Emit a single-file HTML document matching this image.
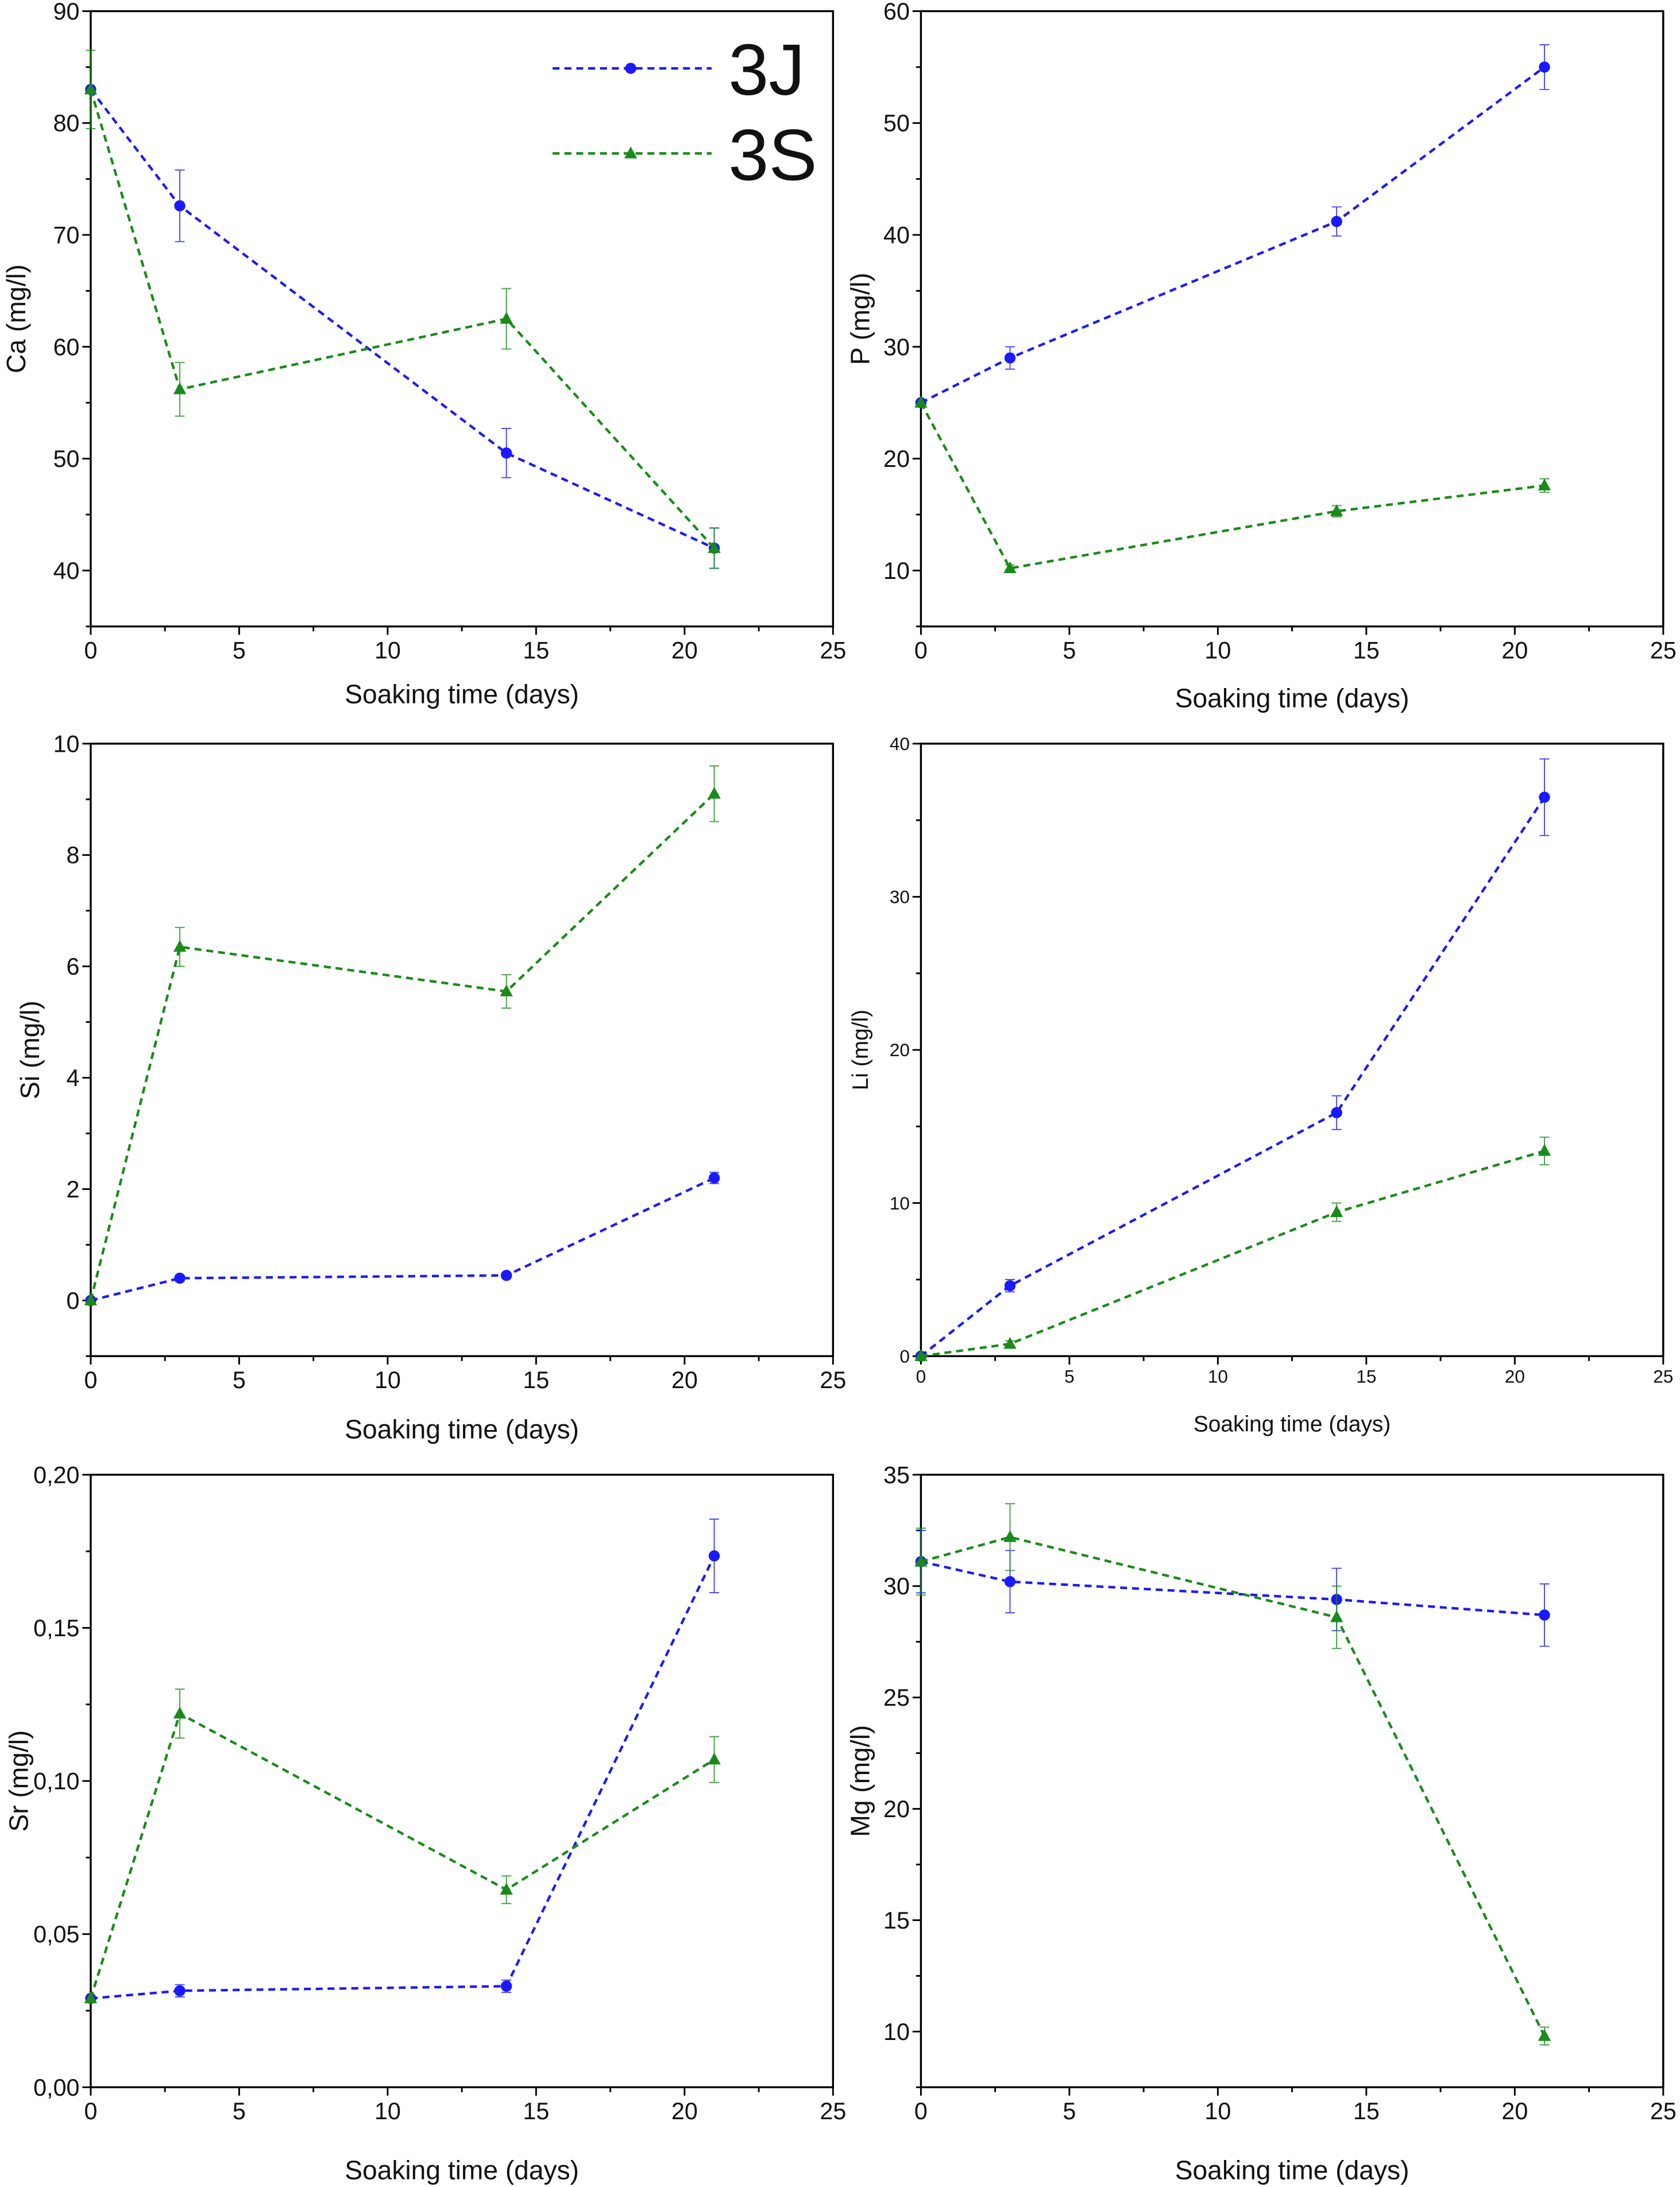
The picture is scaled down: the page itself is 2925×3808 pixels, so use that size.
<!DOCTYPE html>
<html><head><meta charset="utf-8"><style>
html,body{margin:0;padding:0;background:#fff}
svg{display:block}
text{font-family:"Liberation Sans",sans-serif;fill:#111}
</style></head><body>
<svg id="fig" width="2925" height="3808" viewBox="0 0 1204 1567.5" xmlns="http://www.w3.org/2000/svg"></svg>
<script>
const days = [0, 3, 14, 21];
const caJ = [83, 72.6, 50.5, 42];
const caJErr = [0, 3.2, 2.2, 1.8];
const caS = [83, 56.2, 62.5, 42];
const caSErr = [3.5, 2.4, 2.7, 1.8];
const pJ = [25, 29, 41.2, 55];
const pJErr = [0, 1, 1.3, 2];
const pS = [25, 10.2, 15.3, 17.6];
const pSErr = [0, 0.3, 0.5, 0.6];
const siJ = [0, 0.4, 0.45, 2.2];
const siJErr = [0, 0.05, 0.05, 0.1];
const siS = [0, 6.35, 5.55, 9.1];
const siSErr = [0, 0.35, 0.3, 0.5];
const liJ = [0, 4.6, 15.9, 36.5];
const liJErr = [0, 0.4, 1.1, 2.5];
const liS = [0, 0.8, 9.4, 13.4];
const liSErr = [0, 0.2, 0.6, 0.9];
const srJ = [0.029, 0.0315, 0.033, 0.1735];
const srJErr = [0, 0.002, 0.002, 0.012];
const srS = [0.029, 0.122, 0.0645, 0.107];
const srSErr = [0, 0.008, 0.0045, 0.0075];
const mgJ = [31.1, 30.2, 29.4, 28.7];
const mgJErr = [1.4, 1.4, 1.4, 1.4];
const mgS = [31.1, 32.2, 28.6, 9.8];
const mgSErr = [1.5, 1.5, 1.4, 0.4];
const xTicks = [0, 5, 10, 15, 20, 25];
const caTicks = [40, 50, 60, 70, 80, 90];
const pTicks = [10, 20, 30, 40, 50, 60];
const siTicks = [0, 2, 4, 6, 8, 10];
const liTicks = [0, 10, 20, 30, 40];
const srTicks = [0, 0.05, 0.1, 0.15, 0.2];
const srTickLabels = ["0,00", "0,05", "0,10", "0,15", "0,20"];
const mgTicks = [10, 15, 20, 25, 30, 35];

const NS = "http://www.w3.org/2000/svg";
const svg = document.getElementById("fig");
function el(tag, attrs, parent) {
  const e = document.createElementNS(NS, tag);
  for (const k in attrs) e.setAttribute(k, attrs[k]);
  (parent || svg).appendChild(e);
  return e;
}
const BLUE = "#1a1aff", GREEN = "#1a8a1a";

function panel(o) {
  const g = el("g", {});
  
  
  const xs = v => o.x0 + (v - 0) / 25 * (o.x1 - o.x0);
  const ys = v => o.y1 - (v - o.ymin) / (o.ymax - o.ymin) * (o.y1 - o.y0);
  const fs = o.fs || 17, tfs = o.tfs || 19;
  const frame = el("rect", {x: o.x0, y: o.y0, width: o.x1 - o.x0, height: o.y1 - o.y0, fill: "none", stroke: "#000", "stroke-width": 1.4}, g);
  
  
  // x ticks
  for (let v = 0; v <= 25; v += 2.5) {
    const major = v % 5 === 0;
    el("line", {x1: xs(v), x2: xs(v), y1: o.y1, y2: o.y1 + (major ? 6 : 3.5), stroke: "#000", "stroke-width": 1.2}, g);
  }
  xTicks.forEach(v => {
    const t = el("text", {x: xs(v), y: o.y1 + fs + 6, "font-size": fs, "text-anchor": "middle"}, g);
    t.textContent = v;
    
    
  });
  // y ticks
  const step = o.yt[1] - o.yt[0];
  for (let v = o.yt[0] - step; v <= o.ymax + 1e-9; v += step / 2) {
    if (v < o.ymin - 1e-9) continue;
    const major = Math.abs(((v - o.yt[0]) / step) - Math.round((v - o.yt[0]) / step)) < 1e-6;
    el("line", {x1: o.x0 - (major ? 6 : 3.5), x2: o.x0, y1: ys(v), y2: ys(v), stroke: "#000", "stroke-width": 1.2}, g);
  }
  o.yt.forEach((v, i) => {
    const t = el("text", {x: o.x0 - 8, y: ys(v) + fs * 0.35, "font-size": fs, "text-anchor": "end"}, g);
    t.textContent = o.ylabels ? o.ylabels[i] : v;
    
    
  });
  const xt = el("text", {x: (o.x0 + o.x1) / 2, y: o.xty, "font-size": tfs, "text-anchor": "middle"}, g);
  xt.textContent = "Soaking time (days)";
  
  
  const yc = (o.y0 + o.y1) / 2;
  const yt = el("text", {x: o.ytx, y: yc, "font-size": tfs, "text-anchor": "middle", transform: `rotate(-90 ${o.ytx} ${yc})`}, g);
  yt.textContent = o.ytitle;
  
  
  [[o.J, o.JE, BLUE, "circle", "series-3j"], [o.S, o.SE, GREEN, "tri", "series-3s"]].forEach(([vals, errs, col, mk, nm]) => {
    const sg = el("g", {}, g);
    
    
    const pts = days.map((d, i) => xs(d) + "," + ys(vals[i])).join(" ");
    el("polyline", {points: pts, fill: "none", stroke: col, "stroke-width": 1.8, "stroke-dasharray": "5,3.5"}, sg);
    days.forEach((d, i) => {
      const cx = xs(d), cy = ys(vals[i]);
      if (errs[i] > 0) {
        const a = ys(vals[i] + errs[i]), b = ys(vals[i] - errs[i]);
        el("path", {d: `M${cx},${a}V${b}M${cx - 3.5},${a}H${cx + 3.5}M${cx - 3.5},${b}H${cx + 3.5}`, stroke: col, "stroke-width": 0.8, fill: "none", opacity: 0.8}, sg);
      }
      let m;
      if (mk === "circle") m = el("circle", {cx, cy, r: 4, fill: col}, sg);
      else m = el("path", {d: `M${cx},${cy - 5}L${cx + 4.6},${cy + 3.5}L${cx - 4.6},${cy + 3.5}Z`, fill: col}, sg);
      
      
    });
  });
  return g;
}

panel({name: "ca-panel", x0: 65, x1: 597, y0: 8, y1: 449, ymin: 35, ymax: 90, yt: caTicks, J: caJ, JE: caJErr, S: caS, SE: caSErr, ytitle: "Ca (mg/l)", ytx: 18, xty: 504});
panel({name: "p-panel", x0: 660, x1: 1192, y0: 8, y1: 449, ymin: 5, ymax: 60, yt: pTicks, J: pJ, JE: pJErr, S: pS, SE: pSErr, ytitle: "P (mg/l)", ytx: 623, xty: 507});
panel({name: "si-panel", x0: 65, x1: 597, y0: 533, y1: 972, ymin: -1, ymax: 10, yt: siTicks, J: siJ, JE: siJErr, S: siS, SE: siSErr, ytitle: "Si (mg/l)", ytx: 28, xty: 1031});
panel({name: "li-panel", x0: 660, x1: 1192, y0: 533, y1: 972, ymin: 0, ymax: 40, yt: liTicks, J: liJ, JE: liJErr, S: liS, SE: liSErr, ytitle: "Li (mg/l)", ytx: 622, xty: 1026, fs: 13, tfs: 16});
panel({name: "sr-panel", x0: 65, x1: 597, y0: 1057, y1: 1496, ymin: 0, ymax: 0.2, yt: srTicks, ylabels: srTickLabels, J: srJ, JE: srJErr, S: srS, SE: srSErr, ytitle: "Sr (mg/l)", ytx: 20, xty: 1562});
panel({name: "mg-panel", x0: 660, x1: 1192, y0: 1057, y1: 1496, ymin: 7.5, ymax: 35, yt: mgTicks, J: mgJ, JE: mgJErr, S: mgS, SE: mgSErr, ytitle: "Mg (mg/l)", ytx: 623, xty: 1562});

// legend
const lg = el("g", {});


[[49, BLUE, "3J", "circle"], [110, GREEN, "3S", "tri"]].forEach(([y, col, lab, mk]) => {
  const e = el("g", {}, lg);
  
  
  el("line", {x1: 396, x2: 510, y1: y, y2: y, stroke: col, "stroke-width": 1.8, "stroke-dasharray": "5,3.5"}, e);
  if (mk === "circle") el("circle", {cx: 452, cy: y, r: 4, fill: col}, e);
  else el("path", {d: `M452,${y - 5}L456.6,${y + 3.5}L447.4,${y + 3.5}Z`, fill: col}, e);
  const t = el("text", {x: 522, y: y + 19, "font-size": 52}, e);
  t.textContent = lab;
});
</script>
</body></html>
